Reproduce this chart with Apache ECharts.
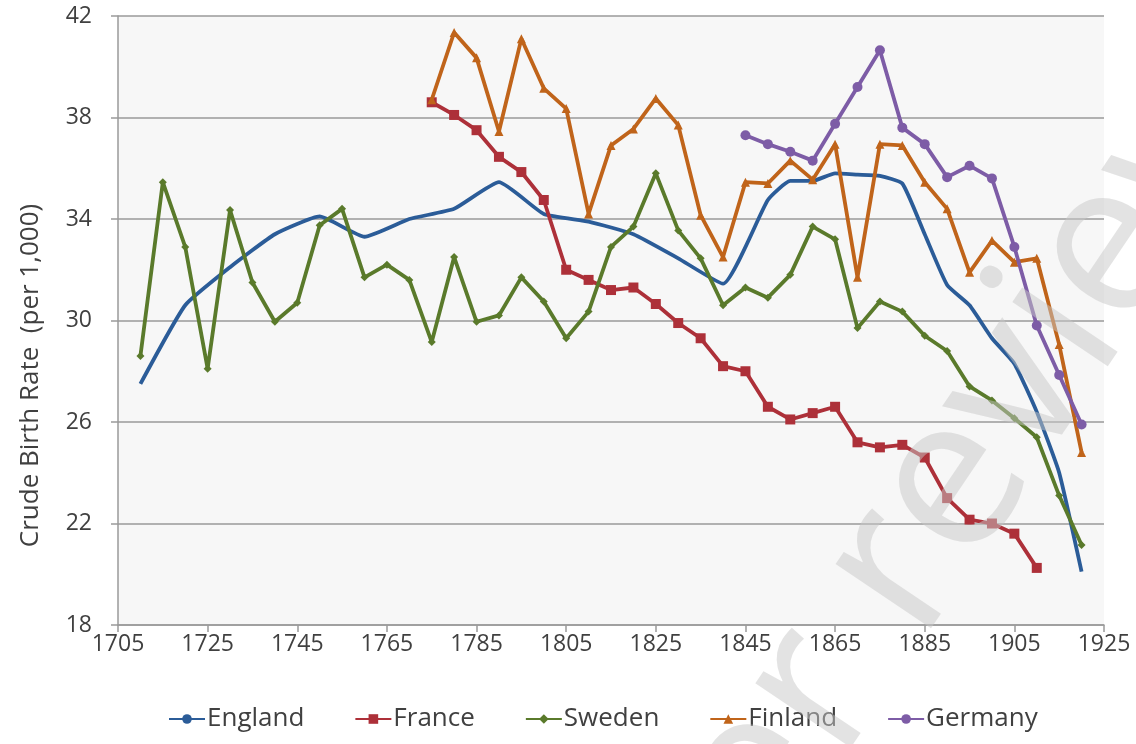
<!DOCTYPE html>
<html>
<head>
<meta charset="utf-8">
<script src="https://cdn.jsdelivr.net/npm/echarts@6/dist/echarts.min.js"></script>
<style>
    html, body { margin: 0; padding: 0; background: #fff; }
    #chart { width: 1136px; height: 744px; }
</style>
</head>
<body>
<div id="chart"></div>
<script>
const years = [1710, 1715, 1720, 1725, 1730, 1735, 1740, 1745, 1750, 1755, 1760, 1765, 1770, 1775, 1780,
    1785, 1790, 1795, 1800, 1805, 1810, 1815, 1820, 1825, 1830, 1835, 1840, 1845, 1850, 1855,
    1860, 1865, 1870, 1875, 1880, 1885, 1890, 1895, 1900, 1905, 1910, 1915, 1920];

const england = [27.5, null, 30.6, null, 32.1, null, 33.4, null, 34.1, null, 33.3, null, 34.0, null, 34.4,
    null, 35.45, null, 34.2, null, 33.9, null, 33.4, null, 32.45, null, 31.45, null, 34.75, 35.5,
    35.5, 35.8, 35.75, 35.7, 35.4, 33.4, 31.4, 30.6, 29.3, 28.3, 26.4, 24.0, 20.1];

const france = [null, null, null, null, null, null, null, null, null, null, null, null, null, 38.6, 38.1,
    37.5, 36.45, 35.85, 34.75, 32.0, 31.6, 31.2, 31.3, 30.65, 29.9, 29.3, 28.2, 28.0, 26.6, 26.1,
    26.35, 26.6, 25.2, 25.0, 25.1, 24.6, 23.0, 22.15, 22.0, 21.6, 20.25, null, null];

const sweden = [28.6, 35.45, 32.9, 28.1, 34.35, 31.5, 29.95, 30.7, 33.75, 34.4, 31.7, 32.2, 31.6, 29.15, 32.5,
    29.95, 30.2, 31.7, 30.75, 29.3, 30.35, 32.9, 33.7, 35.8, 33.55, 32.45, 30.6, 31.3, 30.9, 31.8,
    33.7, 33.2, 29.7, 30.75, 30.35, 29.4, 28.8, 27.4, 26.85, 26.15, 25.4, 23.1, 21.15];

const finland = [null, null, null, null, null, null, null, null, null, null, null, null, null, 38.7, 41.35,
    40.35, 37.45, 41.1, 39.15, 38.35, 34.2, 36.9, 37.55, 38.75, 37.7, 34.15, 32.5, 35.45, 35.4, 36.3,
    35.55, 36.95, 31.7, 36.95, 36.9, 35.45, 34.4, 31.9, 33.15, 32.3, 32.45, 29.05, 24.8];

const germany = [null, null, null, null, null, null, null, null, null, null, null, null, null, null, null,
    null, null, null, null, null, null, null, null, null, null, null, null, 37.3, 36.95, 36.65,
    36.3, 37.75, 39.2, 40.65, 37.6, 36.95, 35.65, 36.1, 35.6, 32.9, 29.8, 27.85, 25.9];

const seriesNames = ["England", "France", "Sweden", "Finland", "Germany"];
const seriesColors = ["#2b5c98", "#ad3039", "#5a7a2b", "#c0641a", "#7d5ca6"];
const seriesSymbols = ["none", "rect", "diamond", "triangle", "circle"];
const seriesSymbolSizes = [0, 10, 8, 9, 10];

const yearTickMin = 1705;
const yearTickMax = 1925;
const rateMin = 18;
const rateMax = 42;

const font = "'Open Sans', sans-serif";
const textColor = "#404040";
const gridColor = "#9a9a9a";

// drop the years a country has no figure for
const toPairs = (values) => years
    .map((y, i) => [y, values[i]])
    .filter(p => p[1] !== null);

const allValues = [england, france, sweden, finland, germany];

const chart = echarts.init(document.getElementById("chart"));

const option = {
    animation: false,
    grid: {
        left: 118, right: 32, top: 16, bottom: 119,
        show: true,
        backgroundColor: "#f7f7f7",
        borderWidth: 0
    },
    legend: {
        data: seriesNames,
        bottom: 7,
        left: 163,
        itemWidth: 36,
        itemHeight: 12,
        itemGap: 50,
        textStyle: { fontFamily: font, fontSize: 26, color: textColor, padding: [0, 0, 0, -3] }
    },
    xAxis: {
        type: "value",
        min: yearTickMin,
        max: yearTickMax,
        interval: 20,
        axisLine: { lineStyle: { color: gridColor, width: 1.5 } },
        axisTick: { show: true, length: 7, lineStyle: { color: gridColor, width: 1.5 } },
        axisLabel: {
            margin: 8,
            fontFamily: font, fontSize: 23, color: textColor,
            formatter: v => String(v)
        },
        splitLine: { show: false }
    },
    yAxis: {
        type: "value",
        min: rateMin,
        max: rateMax,
        interval: 4,
        name: "Crude Birth Rate  (per 1,000)",
        nameLocation: "middle",
        nameGap: 74,
        nameTextStyle: { fontFamily: font, fontSize: 26, color: textColor, padding: [0, 110, 0, 0] },
        axisLine: { show: true, lineStyle: { color: gridColor, width: 1.5 } },
        axisTick: { show: true, length: 7, lineStyle: { color: gridColor, width: 1.5 } },
        axisLabel: { margin: 26, fontFamily: font, fontSize: 23, color: textColor },
        splitLine: { lineStyle: { color: gridColor, width: 1.5 } }
    },
    series: seriesNames.map((name, i) => ({
        name,
        type: "line",
        data: toPairs(allValues[i]),
        smooth: i === 0 ? 0.15 : false,
        showSymbol: i !== 0,
        symbol: seriesSymbols[i],
        symbolSize: seriesSymbolSizes[i],
        lineStyle: { color: seriesColors[i], width: 3.8 },
        itemStyle: { color: seriesColors[i] },
        z: 2 + i
    })),
    // faint diagonal watermark over the plot
    graphic: [{
        type: "text",
        x: 910, y: 550,
        rotation: 56 * Math.PI / 180,
        z: 100,
        silent: true,
        style: {
            text: "Peer review",
            fontFamily: font,
            fontSize: 215,
            fill: "rgba(200,200,200,0.5)",
            textAlign: "center",
            textVerticalAlign: "middle"
        }
    }]
};

chart.setOption(option);
</script>
</body>
</html>
